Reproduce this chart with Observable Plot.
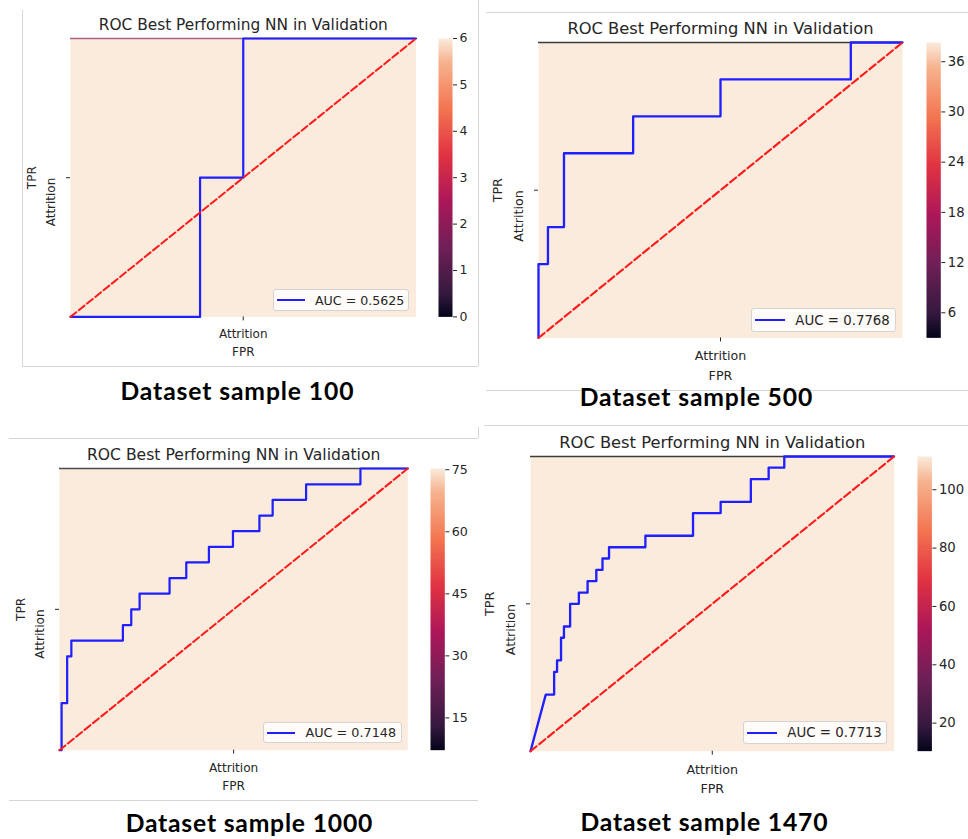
<!DOCTYPE html>
<html><head><meta charset="utf-8">
<script src="https://cdn.jsdelivr.net/npm/d3@7"></script>
<script src="https://cdn.jsdelivr.net/npm/@observablehq/plot@0.6"></script>
<style>
body{margin:0;background:#fff;}
#root{position:relative;width:968px;height:839px;overflow:hidden;font-family:"DejaVu Sans";}
.abs{position:absolute;}
.abs svg{display:block;max-width:none;}
.legend{position:absolute;box-sizing:border-box;border:1px solid #d4d4d4;border-radius:3px;background:rgba(255,255,255,0.8);font-family:"DejaVu Sans";color:#262626;display:flex;align-items:center;white-space:nowrap;}
.legend .sw{display:inline-block;height:0;border-top:2.2px solid #1f1fff;}
.caption{position:absolute;transform:translate(-50%,-50%);font-family:Lato;font-weight:700;line-height:1;white-space:nowrap;color:#000;}
.hr{position:absolute;background:#d6d6d6;}
</style></head><body><div id="root"></div><script>
// ---------------- data ----------------
const titleText = "ROC Best Performing NN in Validation";
const sampleSizes = [100, 500, 1000, 1470];
const aucValues = ["0.5625", "0.7768", "0.7148", "0.7713"];

const fpr100 = [0, 0.375, 0.375, 0.5, 0.5, 1];
const tpr100 = [0, 0, 0.5, 0.5, 1, 1];

const fpr500 = [0, 0, 0.026, 0.026, 0.07, 0.07, 0.26, 0.26, 0.5, 0.5, 0.858, 0.858, 1];
const tpr500 = [0, 0.25, 0.25, 0.375, 0.375, 0.625, 0.625, 0.75, 0.75, 0.875, 0.875, 1, 1];

const fpr1000 = [0, 0.006, 0.006, 0.022, 0.022, 0.034, 0.034, 0.182, 0.182, 0.206, 0.206, 0.23, 0.23, 0.316, 0.316, 0.364, 0.364, 0.429, 0.429, 0.498, 0.498, 0.574, 0.574, 0.612, 0.612, 0.708, 0.708, 0.864, 0.864, 1];
const tpr1000 = [0, 0, 0.167, 0.167, 0.333, 0.333, 0.389, 0.389, 0.444, 0.444, 0.5, 0.5, 0.556, 0.556, 0.611, 0.611, 0.667, 0.667, 0.722, 0.722, 0.778, 0.778, 0.833, 0.833, 0.889, 0.889, 0.944, 0.944, 1, 1];

const fpr1470 = [0, 0.042, 0.065, 0.065, 0.073, 0.073, 0.084, 0.084, 0.092, 0.092, 0.109, 0.109, 0.133, 0.133, 0.157, 0.157, 0.181, 0.181, 0.198, 0.198, 0.216, 0.216, 0.316, 0.316, 0.447, 0.447, 0.523, 0.523, 0.606, 0.606, 0.655, 0.655, 0.698, 0.698, 1];
const tpr1470 = [0, 0.192, 0.192, 0.269, 0.269, 0.308, 0.308, 0.385, 0.385, 0.423, 0.423, 0.5, 0.5, 0.538, 0.538, 0.577, 0.577, 0.615, 0.615, 0.654, 0.654, 0.692, 0.692, 0.731, 0.731, 0.808, 0.808, 0.846, 0.846, 0.923, 0.923, 0.962, 0.962, 1, 1];

const chanceFPR = [0, 1];
const chanceTPR = [0, 1];

const cbarDomains = [[0, 6], [3, 38.3], [7.2, 75.3], [10.4, 111.4]];
const cbarTicks = [[0, 1, 2, 3, 4, 5, 6], [6, 12, 18, 24, 30, 36], [15, 30, 45, 60, 75], [20, 40, 60, 80, 100]];

// ---------------- styling / layout ----------------
const rocket = d3.scaleLinear()
  .domain([0, 1/12, 3/12, 5/12, 7/12, 9/12, 11/12, 1])
  .range(["#03051a", "#35193e", "#701f57", "#ad1759", "#e13342", "#f37651", "#f6b48f", "#faebdd"])
  .interpolate(d3.interpolateRgb).clamp(true);
const peach = rocket(1);
const topLineColors = ["#a8627f", "#3c3c3c", "#4a4a55", "#3c3c3c"];
const fprs = [fpr100, fpr500, fpr1000, fpr1470];
const tprs = [tpr100, tpr500, tpr1000, tpr1470];

const layout = [
  {f:{l:70, r:415.5, t:38.3, b:316.7}, cb:{l:437.7, r:451.7}, cap:{x:237, y:390.5, w:233}, lg:{w:136, h:22, ri:6.5, bi:5.7}, s:1},
  {f:{l:538, r:902, t:42.3, b:337.7}, cb:{l:925.7, r:940}, cap:{x:696, y:396.7, w:232.6}, lg:{w:145, h:24, ri:6, bi:5.7}, s:1.058},
  {f:{l:59, r:407.3, t:468.3, b:750}, cb:{l:430, r:444.3}, cap:{x:249, y:822.7, w:246.7}, lg:{w:139, h:21, ri:5.3, bi:7}, s:1.014},
  {f:{l:529.7, r:893.3, t:456, b:750.7}, cb:{l:917.3, r:931.7}, cap:{x:704, y:822, w:247}, lg:{w:144, h:23, ri:6.3, bi:6.7}, s:1.058}
];

const root = document.getElementById("root");
function place(el, left, top) {
  const d = document.createElement("div");
  d.className = "abs";
  d.style.left = left + "px";
  d.style.top = top + "px";
  d.appendChild(el);
  root.appendChild(d);
  return d;
}
function line(l, t, w, h) {
  const d = document.createElement("div");
  d.className = "hr";
  Object.assign(d.style, {left: l + "px", top: t + "px", width: w + "px", height: h + "px"});
  root.appendChild(d);
}

// panel frame remnants
line(22, 10, 1, 356); line(22, 366, 456, 1); line(478, 0, 1, 366);
line(486, 12, 482, 1); line(486, 390, 482, 1);
line(9, 438, 469, 1); line(478, 427, 1, 11); line(9, 800, 469, 1);
line(484, 425, 484, 1);

const measureCtx = document.createElement("canvas").getContext("2d");
const capFont = 24.7;

layout.forEach((L, i) => {
  const s = L.s;
  const mL = 80, mT = 40, mR = 12, mB = 60;
  const fw = L.f.r - L.f.l, fh = L.f.b - L.f.t;
  const roc = fprs[i].map((x, k) => ({fpr: x, tpr: tprs[i][k]}));
  const chance = chanceFPR.map((x, k) => ({fpr: x, tpr: chanceTPR[k]}));
  const fs = 12 * s;
  const plot = Plot.plot({
    width: fw + mL + mR, height: fh + mT + mB,
    marginLeft: mL, marginTop: mT, marginRight: mR, marginBottom: mB,
    x: {domain: [0, 1]}, y: {domain: [0, 1]},
    style: {fontFamily: "DejaVu Sans", fontSize: fs + "px", color: "#262626", background: "transparent", overflow: "visible", maxWidth: "none"},
    marks: [
      Plot.frame({fill: peach, stroke: null}),
      Plot.ruleY([1], {stroke: topLineColors[i], strokeWidth: 1.6}),
      Plot.line(roc, {x: "fpr", y: "tpr", stroke: "#1f1fff", strokeWidth: 2.2 * s, clip: false}),
      Plot.line(chance, {x: "fpr", y: "tpr", stroke: "#ff1a1a", strokeWidth: 2 * s, strokeDasharray: `${7.4 * s},${3.2 * s}`}),
      Plot.axisX({ticks: [0.5], tickFormat: () => "Attrition", tickSize: 4, tickPadding: 9 * s, fontSize: fs,
        label: "FPR", labelAnchor: "center", labelArrow: "none", labelOffset: 39.5 * s}),
      Plot.axisY({ticks: [0.5], tickFormat: () => "Attrition", tickSize: 4, tickPadding: 15 * s, tickRotate: -90,
        textAnchor: "end", lineAnchor: "middle", fontSize: fs,
        label: "TPR", labelAnchor: "center", labelArrow: "none", labelOffset: 43 * s}),
      Plot.text([titleText], {frameAnchor: "top", dy: -13.3, lineAnchor: "middle", fontSize: 15.4 * s, fill: "#262626"})
    ]
  });
  place(plot, L.f.l - mL, L.f.t - mT);

  // colour bar
  const dom = cbarDomains[i];
  const cw = L.cb.r - L.cb.l;
  const cbar = Plot.plot({
    width: cw + 45, height: fh + 20,
    marginLeft: 0, marginRight: 45, marginTop: 10, marginBottom: 10,
    x: {domain: [0, 1], axis: null},
    y: {domain: dom},
    color: {type: "linear", domain: dom, interpolate: rocket},
    style: {fontFamily: "DejaVu Sans", fontSize: (12.5 * s) + "px", color: "#262626", background: "transparent", overflow: "visible", maxWidth: "none"},
    marks: [
      Plot.raster({x1: 0, x2: 1, y1: dom[0], y2: dom[1], width: 1, height: 256, fill: (x, y) => y, imageRendering: "auto"}),
      Plot.axisY({anchor: "right", ticks: cbarTicks[i], tickFormat: d => String(d), tickSize: 4, tickPadding: 3, fontSize: 12.5 * s, label: null})
    ]
  });
  place(cbar, L.cb.l, L.f.t - 10);

  // legend
  const lg = document.createElement("div");
  lg.className = "legend";
  Object.assign(lg.style, {
    left: (L.f.r - L.lg.ri - L.lg.w) + "px", top: (L.f.b - L.lg.bi - L.lg.h) + "px",
    width: L.lg.w + "px", height: L.lg.h + "px", fontSize: (12.6 * s) + "px"
  });
  const sw = document.createElement("span");
  sw.className = "sw";
  Object.assign(sw.style, {width: (28 * s) + "px", marginLeft: (3 * s) + "px", marginRight: (10 * s) + "px"});
  lg.appendChild(sw);
  lg.appendChild(document.createTextNode("AUC = " + aucValues[i]));
  root.appendChild(lg);

  // caption
  const txt = "Dataset sample " + sampleSizes[i];
  measureCtx.font = `700 ${capFont}px Lato`;
  const natural = measureCtx.measureText(txt).width;
  const ls = Math.max(0, (L.cap.w - natural) / (txt.length - 1));
  const cap = document.createElement("div");
  cap.className = "caption";
  cap.style.left = (L.cap.x + ls / 2) + "px";
  cap.style.top = L.cap.y + "px";
  cap.style.fontSize = capFont + "px";
  cap.style.letterSpacing = ls + "px";
  cap.textContent = txt;
  root.appendChild(cap);
});
</script></body></html>
